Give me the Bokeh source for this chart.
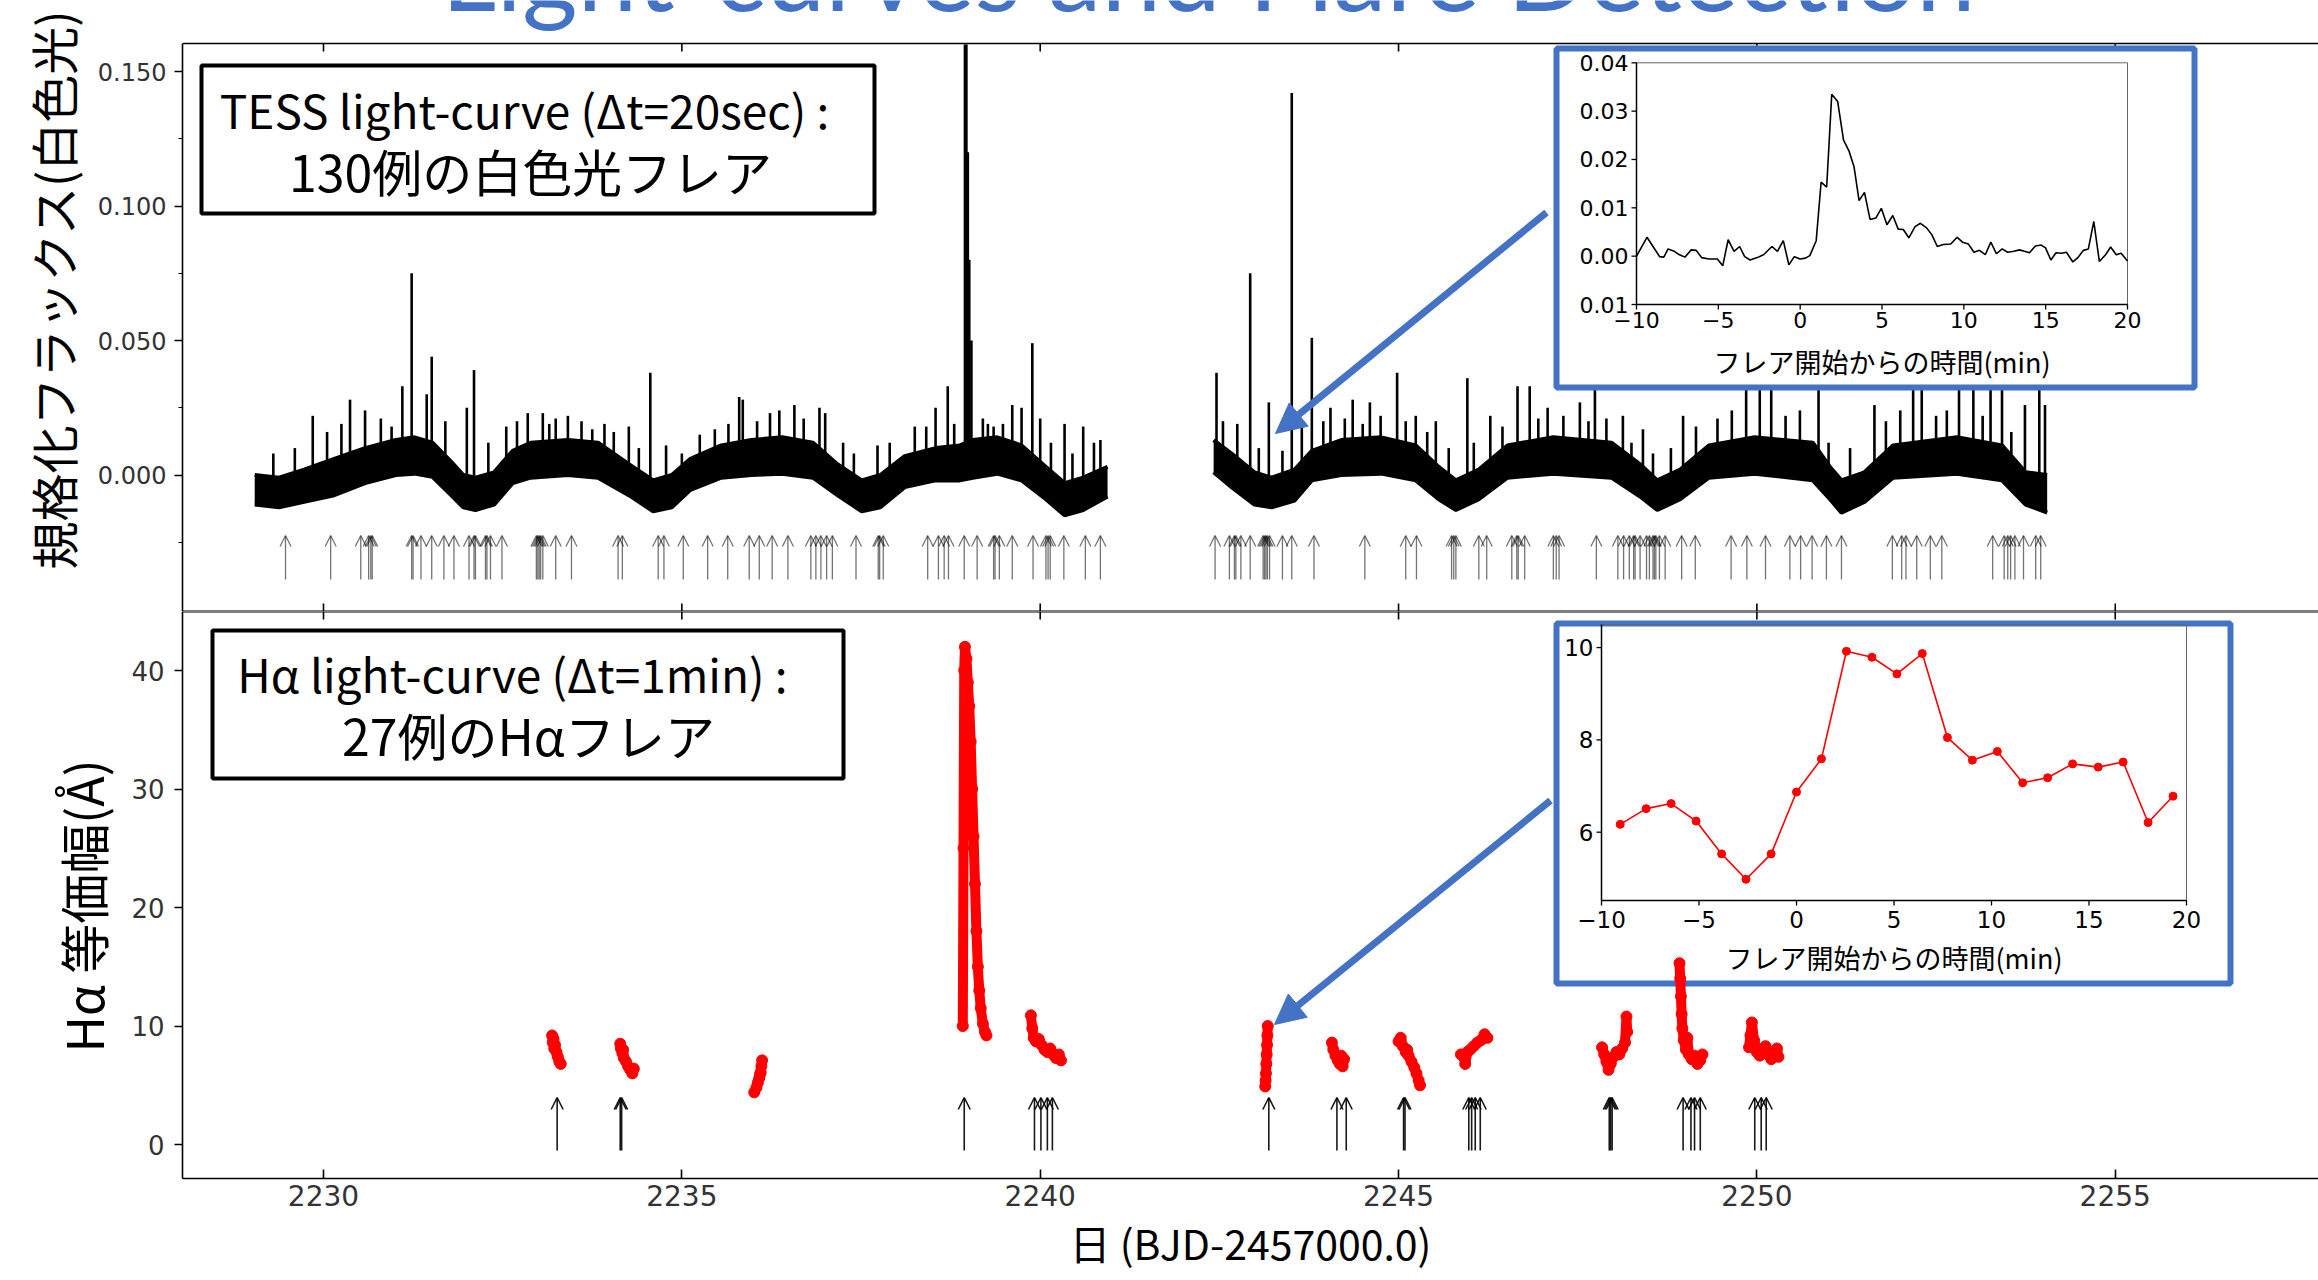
import numpy as np
from bokeh.plotting import figure
from bokeh.layouts import column
from bokeh.models import (Range1d, LinearAxis, FixedTicker, NumeralTickFormatter, Span, Title,
                          BoxAnnotation, Label, Arrow, OpenHead, NormalHead, ColumnDataSource)
from bokeh.core.properties import value
from bokeh.embed import file_html
from bokeh.resources import INLINE

# ------------------------------------------------------------------ data
x_ticks = [2230, 2235, 2240, 2245, 2250, 2255]
flux_ticks = [0.0, 0.05, 0.10, 0.15]
flux_minor = [-0.025, 0.025, 0.075, 0.125]
ew_ticks = [0, 10, 20, 30, 40]

# TESS light curve: lower / upper edge of the dense band
seg1_t = [2229.04, 2229.38, 2229.73, 2230.15, 2230.58, 2231.01, 2231.27, 2231.52, 2231.78, 2231.95,
          2232.12, 2232.38, 2232.64, 2232.89, 2233.41, 2233.83, 2234.26, 2234.60, 2234.86, 2235.12,
          2235.55, 2235.97, 2236.40, 2236.83, 2237.17, 2237.51, 2237.77, 2238.11, 2238.54, 2238.88,
          2239.06, 2239.40, 2239.74, 2240.08, 2240.34, 2240.60, 2240.94]
seg1_lo = [-0.011, -0.012, -0.010, -0.0075, -0.003, 0.000, 0.0005, -0.0007, -0.0075, -0.012,
           -0.013, -0.011, -0.003, -0.001, 0.000, -0.001, -0.0075, -0.0135, -0.012, -0.0055,
           -0.001, 0.000, 0.0005, -0.001, -0.0075, -0.0135, -0.012, -0.0045, -0.002, -0.002,
           -0.001, 0.0005, -0.002, -0.009, -0.015, -0.013, -0.008]
seg1_hi = [0.000, -0.001, 0.002, 0.006, 0.010, 0.013, 0.014, 0.012, 0.005, 0.000,
           -0.001, 0.001, 0.009, 0.012, 0.013, 0.012, 0.004, -0.002, 0.000, 0.006,
           0.011, 0.013, 0.014, 0.012, 0.004, -0.002, 0.000, 0.007, 0.010, 0.011,
           0.013, 0.014, 0.011, 0.003, -0.003, -0.001, 0.003]
seg2_t = [2242.42, 2242.67, 2242.99, 2243.23, 2243.55, 2243.79, 2244.20, 2244.76, 2245.24, 2245.56,
          2245.80, 2246.12, 2246.52, 2247.16, 2247.97, 2248.37, 2248.61, 2248.93, 2249.33, 2249.97,
          2250.78, 2251.02, 2251.18, 2251.50, 2251.90, 2252.79, 2253.42, 2253.75, 2254.05]
seg2_lo = [0.001, -0.0045, -0.011, -0.012, -0.0095, -0.002, 0.000, 0.0005, -0.002, -0.009,
           -0.013, -0.009, -0.001, 0.0005, -0.001, -0.008, -0.013, -0.009, -0.001, 0.0005,
           -0.002, -0.009, -0.014, -0.010, -0.001, 0.0005, -0.002, -0.011, -0.014]
seg2_hi = [0.013, 0.008, 0.001, -0.001, 0.002, 0.009, 0.013, 0.014, 0.011, 0.003,
           -0.002, 0.002, 0.011, 0.014, 0.012, 0.004, -0.002, 0.002, 0.011, 0.014,
           0.012, 0.003, -0.002, 0.001, 0.011, 0.014, 0.011, 0.001, 0.000]

# flare spikes (time, peak flux); the largest flare runs off the top of the panel
spike_t = [2229.30, 2229.60, 2229.85, 2230.05, 2230.25, 2230.37, 2230.58, 2230.80, 2230.95, 2231.10,
           2231.23, 2231.44, 2231.51, 2231.70, 2232.00, 2232.10, 2232.30, 2232.55, 2232.70, 2232.85,
           2233.06, 2233.15, 2233.24, 2233.41, 2233.60, 2233.75, 2233.92, 2234.05, 2234.26, 2234.40,
           2234.56, 2234.78, 2235.00, 2235.25, 2235.46, 2235.65, 2235.80, 2235.85, 2236.05, 2236.23,
           2236.36, 2236.57, 2236.70, 2236.92, 2237.00, 2237.25, 2237.40, 2237.73, 2237.90, 2238.25,
           2238.41, 2238.54, 2238.71, 2238.80, 2238.95, 2238.97, 2238.99, 2239.01, 2239.04, 2239.20,
           2239.27, 2239.35, 2239.48, 2239.61, 2239.74, 2239.89, 2240.00, 2240.15, 2240.34, 2240.45,
           2240.60, 2240.75, 2240.84,
           2242.46, 2242.55, 2242.75, 2242.93, 2243.05, 2243.19, 2243.38, 2243.51, 2243.65, 2243.79,
           2243.95, 2244.05, 2244.25, 2244.36, 2244.50, 2244.60, 2244.75, 2244.98, 2245.10, 2245.24,
           2245.40, 2245.52, 2245.70, 2245.96, 2246.05, 2246.28, 2246.45, 2246.66, 2246.83, 2246.95,
           2247.08, 2247.30, 2247.53, 2247.65, 2247.74, 2247.90, 2248.13, 2248.25, 2248.41, 2248.55,
           2248.80, 2248.97, 2249.15, 2249.45, 2249.65, 2249.85, 2250.04, 2250.20, 2250.40, 2250.60,
           2250.86, 2251.00, 2251.30, 2251.64, 2251.80, 2252.00, 2252.18, 2252.30, 2252.50, 2252.65,
           2252.82, 2253.02, 2253.15, 2253.26, 2253.42, 2253.55, 2253.74, 2253.94, 2254.02]
spike_f = [0.008, 0.010, 0.022, 0.016, 0.019, 0.028, 0.024, 0.021, 0.018, 0.033,
           0.075, 0.030, 0.044, 0.020, 0.025, 0.039, 0.012, 0.018, 0.020, 0.023,
           0.023, 0.019, 0.021, 0.022, 0.020, 0.017, 0.019, 0.016, 0.018, 0.010,
           0.038, 0.011, 0.008, 0.015, 0.017, 0.019, 0.029, 0.028, 0.020, 0.023,
           0.024, 0.026, 0.021, 0.025, 0.023, 0.012, 0.008, 0.011, 0.012, 0.018,
           0.018, 0.025, 0.033, 0.019, 0.160, 0.160, 0.120, 0.080, 0.050, 0.021,
           0.019, 0.018, 0.019, 0.026, 0.025, 0.049, 0.021, 0.012, 0.019, 0.008,
           0.018, 0.012, 0.013,
           0.038, 0.020, 0.019, 0.075, 0.010, 0.027, 0.009, 0.142, 0.018, 0.051,
           0.020, 0.025, 0.021, 0.028, 0.019, 0.027, 0.022, 0.038, 0.020, 0.022,
           0.016, 0.020, 0.010, 0.036, 0.012, 0.022, 0.018, 0.033, 0.033, 0.021,
           0.025, 0.022, 0.027, 0.020, 0.045, 0.021, 0.022, 0.012, 0.017, 0.008,
           0.010, 0.022, 0.018, 0.021, 0.024, 0.045, 0.040, 0.045, 0.022, 0.024,
           0.045, 0.012, 0.010, 0.026, 0.020, 0.024, 0.045, 0.040, 0.022, 0.024,
           0.045, 0.040, 0.022, 0.040, 0.045, 0.016, 0.026, 0.045, 0.026]

# detected white-light flares (130)
wl_flare_t = [2229.47, 2230.10, 2230.52, 2230.63, 2230.66, 2230.68, 2231.23, 2231.25, 2231.36, 2231.51,
              2231.68, 2231.82, 2232.03, 2232.10, 2232.12, 2232.26, 2232.28, 2232.33, 2232.49, 2232.97,
              2232.99, 2233.01, 2233.03, 2233.06, 2233.24, 2233.46, 2234.11, 2234.17, 2234.67, 2234.75,
              2235.02, 2235.36, 2235.64, 2235.94, 2236.08, 2236.26, 2236.48, 2236.80, 2236.87, 2236.94,
              2237.02, 2237.10, 2237.43, 2237.74, 2237.76, 2237.81, 2238.43, 2238.58, 2238.66, 2238.72,
              2238.94, 2239.12, 2239.35, 2239.37, 2239.43, 2239.61, 2239.90, 2240.08, 2240.11, 2240.14,
              2240.33, 2240.63, 2240.84,
              2242.44, 2242.64, 2242.71, 2242.73, 2242.80, 2242.93, 2243.11, 2243.13, 2243.15, 2243.17,
              2243.20, 2243.38, 2243.51, 2243.82, 2244.53, 2245.10, 2245.25, 2245.74, 2245.77, 2245.80,
              2246.12, 2246.23, 2246.58, 2246.65, 2246.67, 2246.76, 2247.16, 2247.20, 2247.24, 2247.76,
              2248.06, 2248.14, 2248.22, 2248.28, 2248.30, 2248.37, 2248.46, 2248.50, 2248.55, 2248.57,
              2248.59, 2248.64, 2248.72, 2248.95, 2249.14, 2249.64, 2249.86, 2250.12, 2250.46, 2250.61,
              2250.77, 2250.97, 2251.18, 2251.89, 2252.02, 2252.08, 2252.23, 2252.42, 2252.58, 2253.29,
              2253.45, 2253.50, 2253.54, 2253.60, 2253.72, 2253.89, 2253.96]

# H-alpha equivalent width, one list per observing run
ha_t = [
    [2233.19, 2233.20, 2233.21, 2233.22, 2233.23, 2233.25, 2233.27, 2233.29, 2233.31],
    [2234.14, 2234.15, 2234.17, 2234.18, 2234.19, 2234.22, 2234.25, 2234.28, 2234.31, 2234.33],
    [2236.01, 2236.04, 2236.06, 2236.08, 2236.09, 2236.10, 2236.11, 2236.12],
    [2238.92, 2238.93, 2238.94, 2238.95, 2238.97, 2238.99, 2239.01, 2239.03, 2239.05, 2239.07,
     2239.09, 2239.11, 2239.13, 2239.15, 2239.17, 2239.20, 2239.23, 2239.25],
    [2239.87, 2239.89, 2239.91, 2239.94, 2239.98, 2240.02, 2240.06, 2240.10, 2240.14, 2240.18,
     2240.22, 2240.26, 2240.29],
    [2243.14, 2243.145, 2243.15, 2243.155, 2243.16, 2243.165, 2243.17, 2243.175],
    [2244.07, 2244.09, 2244.12, 2244.15, 2244.18, 2244.20, 2244.22, 2244.24],
    [2245.00, 2245.03, 2245.06, 2245.10, 2245.12, 2245.14, 2245.18, 2245.22, 2245.25, 2245.28, 2245.30],
    [2245.87, 2245.91, 2245.93, 2245.96, 2246.00, 2246.05, 2246.10, 2246.15, 2246.20, 2246.24],
    [2247.84, 2247.87, 2247.90, 2247.93, 2247.96, 2248.00, 2248.04, 2248.08, 2248.12, 2248.16,
     2248.18, 2248.19],
    [2248.92, 2248.93, 2248.94, 2248.95, 2248.96, 2248.98, 2249.01, 2249.03, 2249.05, 2249.09,
     2249.13, 2249.17, 2249.21, 2249.24],
    [2249.89, 2249.91, 2249.93, 2249.96, 2250.00, 2250.04, 2250.08, 2250.12, 2250.16, 2250.20,
     2250.24, 2250.28, 2250.30],
]
ha_v = [
    [9.2, 8.6, 8.9, 8.1, 8.4, 7.8, 7.4, 7.0, 6.8],
    [8.5, 8.1, 7.7, 8.0, 7.3, 7.0, 6.6, 6.3, 6.0, 6.4],
    [4.4, 4.8, 5.2, 5.6, 5.9, 6.1, 6.6, 7.1],
    [10.0, 25.0, 40.0, 42.0, 41.0, 39.0, 37.0, 34.0, 30.0, 26.0,
     22.0, 18.0, 15.0, 13.0, 11.5, 10.2, 9.5, 9.2],
    [10.9, 9.8, 9.0, 8.7, 8.9, 8.4, 8.0, 7.8, 8.1, 7.6, 7.3, 7.6, 7.1],
    [4.9, 5.4, 6.0, 6.8, 7.6, 8.4, 9.2, 10.0],
    [8.6, 8.0, 7.5, 7.1, 6.8, 7.5, 6.6, 7.2],
    [8.7, 9.0, 8.3, 7.8, 8.0, 7.5, 7.0, 6.5, 6.0, 5.4, 5.0],
    [7.6, 7.4, 6.8, 7.8, 8.0, 8.3, 8.6, 8.8, 9.3, 9.0],
    [8.2, 7.6, 7.0, 6.3, 6.8, 7.4, 7.8, 7.6, 8.1, 8.6, 10.8, 9.5],
    [15.3, 14.0, 12.5, 11.0, 9.8, 8.8, 8.0, 9.0, 7.6, 7.2, 7.5, 6.8, 7.1, 7.6],
    [8.2, 9.2, 10.3, 8.8, 7.8, 7.5, 7.9, 8.3, 7.6, 7.2, 7.8, 8.1, 7.4],
]
# detected H-alpha flares (27)
ha_flare_t = [2233.26, 2234.14, 2234.16, 2238.94, 2239.92, 2240.01, 2240.10, 2240.17, 2243.19,
              2244.14, 2244.27, 2245.07, 2245.09, 2245.98, 2246.02, 2246.07, 2246.14, 2247.94,
              2247.96, 2247.98, 2248.97, 2249.08, 2249.13, 2249.21, 2249.97, 2250.06, 2250.13]

# inset: TESS flare profile
tess_min = [-10.0, -9.36, -8.97, -8.59, -8.33, -8.07, -7.69, -7.38, -7.04, -6.66, -6.35, -6.02,
            -5.58, -5.06, -4.73, -4.40, -4.04, -3.70, -3.39, -3.06, -2.62, -2.24, -1.72, -1.39,
            -1.03, -0.69, -0.36, 0.00, 0.33, 0.59, 0.98, 1.28, 1.62, 1.93, 2.29, 2.65, 2.98,
            3.29, 3.60, 3.93, 4.27, 4.63, 4.96, 5.30, 5.66, 5.99, 6.30, 6.64, 7.02, 7.35, 7.74,
            8.05, 8.38, 8.74, 9.20, 9.59, 9.92, 10.28, 10.62, 10.95, 11.31, 11.65, 11.99, 12.34,
            12.68, 13.06, 13.40, 13.70, 14.01, 14.37, 14.73, 14.99, 15.32, 15.63, 15.97, 16.27,
            16.66, 16.97, 17.30, 17.61, 17.94, 18.28, 18.66, 18.97, 19.31, 19.61, 20.00]
tess_flux = [0.0000, 0.0039, 0.0019, -0.0001, -0.0002, 0.0015, 0.0010, 0.0003, -0.0002, 0.0013,
             0.0012, -0.0003, -0.0006, -0.0006, -0.0020, 0.0034, 0.0010, 0.0020, -0.0001, -0.0008,
             -0.0003, 0.0003, 0.0020, 0.0010, 0.0032, -0.0018, -0.0001, -0.0006, -0.0004, 0.0001,
             0.0032, 0.0153, 0.0143, 0.0335, 0.0320, 0.0240, 0.0218, 0.0185, 0.0115, 0.0132,
             0.0076, 0.0079, 0.0099, 0.0065, 0.0084, 0.0056, 0.0055, 0.0038, 0.0061, 0.0068,
             0.0058, 0.0044, 0.0020, 0.0024, 0.0025, 0.0039, 0.0029, 0.0025, 0.0008, 0.0012,
             0.0003, 0.0029, 0.0005, 0.0015, 0.0008, 0.0010, 0.0013, 0.0010, 0.0007, 0.0021,
             0.0023, 0.0017, -0.0008, 0.0007, 0.0006, 0.0008, -0.0012, -0.0003, 0.0012, 0.0015,
             0.0072, -0.0011, 0.0003, 0.0019, 0.0003, 0.0006, -0.0010]
# inset: H-alpha flare profile
ha_min = [-9.04, -7.71, -6.43, -5.15, -3.84, -2.59, -1.30, 0.00, 1.28, 2.56, 3.87, 5.15,
          6.45, 7.74, 9.02, 10.30, 11.60, 12.88, 14.16, 15.47, 16.75, 18.03, 19.31]
ha_ew = [6.17, 6.51, 6.62, 6.24, 5.53, 4.98, 5.53, 6.87, 7.59, 9.92, 9.79, 9.43,
         9.87, 8.05, 7.56, 7.75, 7.07, 7.18, 7.48, 7.41, 7.52, 6.21, 6.78]

inset_x_ticks = [-10, -5, 0, 5, 10, 15, 20]
inset_x_labels = ["−10", "−5", "0", "5", "10", "15", "20"]
tess_inset_y_ticks = [-0.01, 0.0, 0.01, 0.02, 0.03, 0.04]
tess_inset_y_labels = ["0.01", "0.00", "0.01", "0.02", "0.03", "0.04"]
ha_inset_y_ticks = [6, 8, 10]
ha_inset_y_labels = ["6", "8", "10"]

TITLE = "Light-curves and Flare Detection"
BOX1 = ["TESS light-curve (Δt=20sec) :", "130例の白色光フレア"]
BOX2 = ["Hα light-curve (Δt=1min) :", "27例のHαフレア"]
YLAB1 = "規格化フラックス(白色光)"
YLAB2 = "Hα 等価幅(Å)"
XLAB = "日 (BJD-2457000.0)"
INSET_XLAB = "フレア開始からの時間(min)"

# ------------------------------------------------------------------ layout helpers (page px -> data)
BLUE = "#4472C4"
JP = "Noto Sans CJK JP"
TICKF = "DejaVu Sans"
W, H = 2318, 1280
FRAME_L, TOP_LINE, DIVIDER, BOTTOM = 182, 43, 611, 1178


def day_at(px):
    return 2230 + (px - 323.0) / 71.67


def flux_at(py):
    return (474.5 - py) / 2690.0


def ew_at(py):
    return (1144.0 - py) / 11.85


xr = Range1d(day_at(FRAME_L), day_at(W))
common = dict(output_backend="svg", toolbar_location=None, x_range=xr, width=W,
              x_axis_location=None, y_axis_location=None, outline_line_color=None,
              background_fill_color="white", border_fill_color="white",
              min_border_left=FRAME_L, min_border_right=0, min_border_top=0)

# top panel frame reaches the top of the page so the cut-off title can be drawn in it
p1 = figure(height=DIVIDER, y_range=Range1d(flux_at(DIVIDER), flux_at(0)), min_border_bottom=0, **common)
p2 = figure(height=H - DIVIDER, y_range=Range1d(ew_at(BOTTOM), ew_at(DIVIDER)),
            min_border_bottom=H - BOTTOM, **common)
for p in (p1, p2):
    p.grid.visible = False

ay1 = LinearAxis(ticker=FixedTicker(ticks=flux_ticks, minor_ticks=flux_minor),
                 formatter=NumeralTickFormatter(format="0.000"),
                 bounds=(flux_at(DIVIDER), flux_at(TOP_LINE)),
                 major_tick_in=0, major_tick_out=8, minor_tick_in=0, minor_tick_out=4,
                 axis_line_width=1.6, major_tick_line_width=1.6, minor_tick_line_width=1.2,
                 major_label_text_font_size="24px", major_label_text_font=TICKF,
                 major_label_text_color="#333333", major_label_standoff=8)
p1.add_layout(ay1, "left")
p1.add_layout(Title(text=YLAB1, text_font=JP, text_font_size="48px", text_font_style="normal",
                    text_color="black", align="left", offset=DIVIDER - 569, standoff=16), "left")

ay2 = LinearAxis(ticker=FixedTicker(ticks=ew_ticks),
                 major_tick_in=0, major_tick_out=8, minor_tick_in=0, minor_tick_out=0,
                 axis_line_width=1.6, major_tick_line_width=1.6,
                 major_label_text_font_size="26px", major_label_text_font=TICKF,
                 major_label_text_color="#333333", major_label_standoff=10)
p2.add_layout(ay2, "left")
p2.add_layout(Title(text=YLAB2, text_font=JP, text_font_size="50px", text_font_style="normal",
                    text_color="black", align="left", offset=BOTTOM - 1052, standoff=22), "left")

ax2 = LinearAxis(ticker=FixedTicker(ticks=x_ticks), major_tick_in=9, major_tick_out=0,
                 minor_tick_in=0, minor_tick_out=0, axis_line_width=1.6, major_tick_line_width=1.6,
                 major_label_text_font_size="28px", major_label_text_font=TICKF,
                 major_label_text_color="#333333", major_label_standoff=6,
                 axis_label=XLAB, axis_label_text_font=JP, axis_label_text_font_size="41px",
                 axis_label_text_font_style="normal", axis_label_text_color="black",
                 axis_label_standoff=3)
p2.add_layout(ax2, "below")

# frame lines with inward ticks: top of the upper panel and the divider between panels
p1.add_layout(Span(location=flux_at(TOP_LINE), dimension="width", line_color="black", line_width=1.6))
p1.add_layout(Span(location=flux_at(DIVIDER), dimension="width", line_color="black", line_width=2))
p2.add_layout(Span(location=ew_at(DIVIDER), dimension="width", line_color="black", line_width=2))
nt = len(x_ticks)
p1.segment(x0=x_ticks, y0=[flux_at(TOP_LINE)] * nt, x1=x_ticks, y1=[flux_at(TOP_LINE + 8)] * nt,
           line_color="black", line_width=1.6)
p1.segment(x0=x_ticks, y0=[flux_at(DIVIDER)] * nt, x1=x_ticks, y1=[flux_at(DIVIDER - 8)] * nt,
           line_color="black", line_width=1.6)
p2.segment(x0=x_ticks, y0=[ew_at(DIVIDER)] * nt, x1=x_ticks, y1=[ew_at(DIVIDER + 8)] * nt,
           line_color="black", line_width=1.6)

# slide title, cut off by the top edge of the page
p1.text(x=[day_at(1208)], y=[flux_at(-31)], text=[TITLE], text_align="center", text_baseline="middle",
        text_font=value("Lato"), text_font_size="107px", text_color=BLUE)

# ------------------------------------------------------------------ top panel: TESS light curve
p1.varea(x=seg1_t, y1=seg1_lo, y2=seg1_hi, color="black")
p1.varea(x=seg2_t, y1=seg2_lo, y2=seg2_hi, color="black")
for st, lo, hi in ((seg1_t, seg1_lo, seg1_hi), (seg2_t, seg2_lo, seg2_hi)):
    p1.line(st, lo, line_color="black", line_width=4)
    p1.line(st, hi, line_color="black", line_width=4)
base = np.interp(spike_t, seg1_t + seg2_t, seg1_lo + seg2_lo)
p1.segment(x0=spike_t, y0=base, x1=spike_t, y1=spike_f, line_color="black", line_width=2.6)

p1.add_layout(Arrow(end=OpenHead(size=11, line_color="black", line_alpha=0.55, line_width=1.3),
                    x_start="t", x_end="t", y_start=flux_at(579), y_end=flux_at(535),
                    line_color="black", line_alpha=0.55, line_width=1.3,
                    source=ColumnDataSource(dict(t=wl_flare_t))))

# ------------------------------------------------------------------ bottom panel: H-alpha
p2.multi_line(xs=ha_t, ys=ha_v, line_color="red", line_width=10, level="overlay")
p2.scatter(x=sum(ha_t, []), y=sum(ha_v, []), size=11, color="red", level="overlay")
p2.add_layout(Arrow(end=OpenHead(size=12, line_color="black", line_alpha=0.9, line_width=1.6),
                    x_start="t", x_end="t", y_start=ew_at(1150), y_end=ew_at(1097),
                    line_color="black", line_alpha=0.9, line_width=1.6,
                    source=ColumnDataSource(dict(t=ha_flare_t))))

# ------------------------------------------------------------------ text boxes
box_kw = dict(fill_color="white", fill_alpha=1, line_color="black", line_alpha=1, line_width=4)
lab_kw = dict(text_align="center", text_baseline="middle", text_font=JP, text_color="black")
p1.add_layout(BoxAnnotation(left=day_at(201), right=day_at(874), bottom=flux_at(213), top=flux_at(65),
                            **box_kw))
p1.add_layout(Label(x=day_at(524), y=flux_at(108), text=BOX1[0], text_font_size="46px", **lab_kw))
p1.add_layout(Label(x=day_at(530), y=flux_at(169), text=BOX1[1], text_font_size="50px", **lab_kw))
p2.add_layout(BoxAnnotation(left=day_at(212), right=day_at(843), bottom=ew_at(778), top=ew_at(630),
                            **box_kw))
p2.add_layout(Label(x=day_at(512), y=ew_at(672), text=BOX2[0], text_font_size="46px", **lab_kw))
p2.add_layout(Label(x=day_at(528), y=ew_at(733), text=BOX2[1], text_font_size="50px", **lab_kw))

# ------------------------------------------------------------------ insets
blue_kw = dict(fill_color="white", fill_alpha=1, line_color=BLUE, line_alpha=1, line_width=6)
p1.add_layout(BoxAnnotation(left=day_at(1556), right=day_at(2194), bottom=flux_at(387), top=flux_at(48),
                            **blue_kw))
p2.add_layout(BoxAnnotation(left=day_at(1556), right=day_at(2230), bottom=ew_at(983), top=ew_at(623),
                            **blue_kw))


def make_inset(fig, y_of, frame, xlim, ylim, yticks, ylabels, font_px, xlab_off):
    l, t, r, b = frame
    sub = fig.subplot(x_source=Range1d(*xlim), y_source=Range1d(*ylim),
                      x_target=Range1d(day_at(l), day_at(r)),
                      y_target=Range1d(y_of(b), y_of(t)))
    dx = 5 * (xlim[1] - xlim[0]) / (r - l)
    dy = 5 * (ylim[1] - ylim[0]) / (b - t)
    n, m = len(inset_x_ticks), len(yticks)
    kw = dict(level="overlay")
    sub.quad(left=[xlim[0]], right=[xlim[1]], bottom=[ylim[0]], top=[ylim[1]],
             fill_color=None, line_color="#666666", line_width=1, **kw)
    sub.segment(x0=[xlim[0], xlim[0]], y0=[ylim[0], ylim[0]], x1=[xlim[0], xlim[1]], y1=[ylim[1], ylim[0]],
                line_color="black", line_width=1.5, **kw)
    sub.segment(x0=inset_x_ticks, y0=[ylim[0]] * n, x1=inset_x_ticks, y1=[ylim[0] - dy] * n,
                line_color="black", line_width=1.3, **kw)
    sub.segment(x0=[xlim[0]] * m, y0=yticks, x1=[xlim[0] - dx] * m, y1=yticks,
                line_color="black", line_width=1.3, **kw)
    sub.text(x=inset_x_ticks, y=[ylim[0]] * n, text=inset_x_labels, text_align="center",
             text_baseline="top", y_offset=xlab_off, text_font=value(TICKF),
             text_font_size=f"{font_px}px", text_color="black", **kw)
    sub.text(x=[xlim[0]] * m, y=yticks, text=ylabels, text_align="right", text_baseline="middle",
             x_offset=-8, text_font=value(TICKF), text_font_size=f"{font_px}px",
             text_color="black", **kw)
    sub.text(x=[(xlim[0] + xlim[1]) / 2], y=[ylim[0]], text=[INSET_XLAB], text_align="center",
             text_baseline="middle", y_offset=57, text_font=value(JP), text_font_size="27px",
             text_color="black", **kw)
    return sub


s1 = make_inset(p1, flux_at, (1636, 62.3, 2127, 304), (-10, 20), (-0.01, 0.04),
                tess_inset_y_ticks, tess_inset_y_labels, 22, 7)
s1.line(tess_min, tess_flux, line_color="black", line_width=1.6, level="overlay")

s2 = make_inset(p2, ew_at, (1601, 624, 2186, 900), (-10, 20), (4.52, 10.5),
                ha_inset_y_ticks, ha_inset_y_labels, 23, 10)
s2.line(ha_min, ha_ew, line_color="red", line_width=1.6, level="overlay")
s2.scatter(ha_min, ha_ew, size=8, color="red", level="overlay")

# blue pointer arrows
p1.add_layout(Arrow(end=NormalHead(size=30, fill_color=BLUE, line_color=BLUE),
                    x_start=day_at(1546), y_start=flux_at(212), x_end=day_at(1275), y_end=flux_at(433),
                    line_color=BLUE, line_width=7))
p2.add_layout(Arrow(end=NormalHead(size=30, fill_color=BLUE, line_color=BLUE),
                    x_start=day_at(1550), y_start=ew_at(800), x_end=day_at(1274), y_end=ew_at(1024),
                    line_color=BLUE, line_width=7))

layout = column(p1, p2)
open("out.html", "w").write(file_html(layout, INLINE))
